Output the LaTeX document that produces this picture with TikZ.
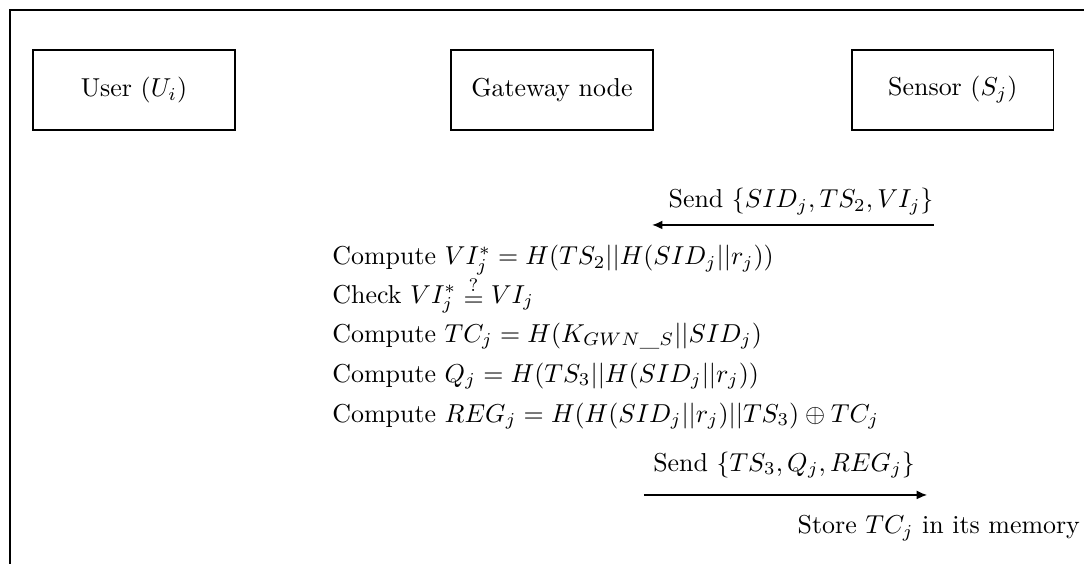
\documentclass[tikz,border=0pt]{standalone}
\usetikzlibrary{arrows.meta, positioning}

\begin{document}
\begin{tikzpicture}[
  party/.style={draw, line width=0.5pt, minimum width=2.74cm, minimum height=1.086cm,
                align=center, inner sep=2pt},
  step line/.style={anchor=base west, inner sep=0pt},
  msg/.style={-{Latex[length=1.4mm, width=1.2mm]}, line width=0.5pt},
  msglabel/.style={inner sep=1pt},
]
\useasboundingbox (0,0) rectangle (14.71,-7.65);
% frame of the page
\draw[line width=0.5pt] (0.136,-7.65) -- (0.136,-0.136) -- (14.71,-0.136);

% participants
\node[party] (user) at (1.818,-1.221) {User $(U_i)$};
\node[party] (gwn)  at (7.49,-1.221)  {Gateway node};
\node[party] (sen)  at (12.93,-1.221) {Sensor $(S_j)$};

% message from sensor to gateway
\coordinate (m1s) at (12.67,-3.053);
\coordinate (m1e) at (8.85,-3.053);
\draw[msg] (m1s) -- (m1e);
\node[msglabel] (m1) at (10.87,-2.73) {Send $\{SID_j, TS_2, VI_j\}$};

% gateway computations
\node[step line] (c1) at (4.505,-3.596) {Compute $VI_j^* = H(TS_2||H(SID_j||r_j))$};
\node[step line] (c2) at (4.505,-4.112) {Check $VI_j^* \mathrel{\raisebox{-1.3pt}{$\stackrel{?}{=}$}} VI_j$};
\node[step line] (c3) at (4.505,-4.641) {Compute $TC_j = H(K_{GWN\_S}||SID_j)$};
\node[step line] (c4) at (4.505,-5.184) {Compute $Q_j = H(TS_3||H(SID_j||r_j))$};
\node[step line] (c5) at (4.505,-5.727) {Compute $REG_j = H(H(SID_j||r_j)||TS_3) \oplus TC_j$};

% reply from gateway to sensor
\node[msglabel] (m2) at (10.64,-6.31) {Send $\{TS_3, Q_j, REG_j\}$};
\coordinate (m2s) at (8.739,-6.717);
\coordinate (m2e) at (12.58,-6.717);
\draw[msg] (m2s) -- (m2e);

\node[inner sep=0pt] (store) at (12.74,-7.165) {Store $TC_j$ in its memory};
\end{tikzpicture}
\end{document}
